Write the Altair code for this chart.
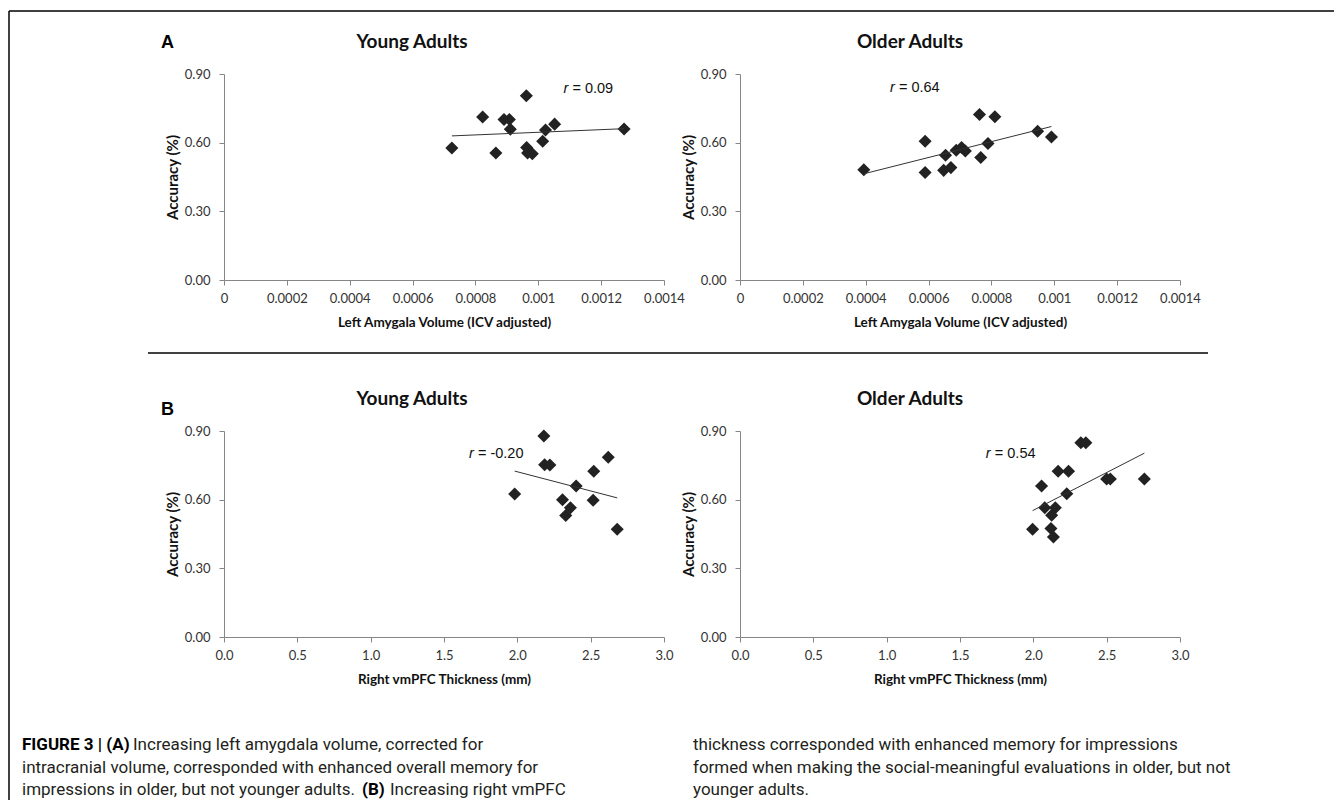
import altair as alt
import pandas as pd

# ---------------- data ----------------
a_young_x = [0.000725, 0.000823, 0.000865, 0.000891, 0.000908, 0.000911, 0.000962,
             0.000963, 0.000966, 0.000981, 0.001014, 0.001023, 0.001052, 0.001273]
a_young_y = [0.577, 0.712, 0.555, 0.701, 0.701, 0.659, 0.805,
             0.579, 0.555, 0.552, 0.606, 0.655, 0.681, 0.660]

a_old_x = [0.000394, 0.000589, 0.000589, 0.000648, 0.000654, 0.000671, 0.000688, 0.000705,
           0.000717, 0.000762, 0.000766, 0.000789, 0.000811, 0.000947, 0.000991]
a_old_y = [0.482, 0.606, 0.470, 0.479, 0.545, 0.491, 0.567, 0.579,
           0.564, 0.723, 0.535, 0.596, 0.713, 0.650, 0.625]

b_young_x = [1.982, 2.181, 2.186, 2.222, 2.308, 2.362, 2.330, 2.401, 2.521, 2.517, 2.620, 2.681]
b_young_y = [0.625, 0.878, 0.753, 0.751, 0.600, 0.565, 0.531, 0.660, 0.724, 0.597, 0.785, 0.471]

b_old_x = [1.995, 2.056, 2.078, 2.150, 2.125, 2.120, 2.137, 2.169, 2.240, 2.228,
           2.324, 2.358, 2.500, 2.525, 2.757]
b_old_y = [0.471, 0.660, 0.565, 0.565, 0.532, 0.474, 0.437, 0.724, 0.724, 0.626,
           0.849, 0.849, 0.690, 0.690, 0.690]

a_ticks = [0, 0.0002, 0.0004, 0.0006, 0.0008, 0.001, 0.0012, 0.0014]
b_ticks = [0.0, 0.5, 1.0, 1.5, 2.0, 2.5, 3.0]
y_ticks = [0.0, 0.3, 0.6, 0.9]

r_labels = ["0.09", "0.64", "-0.20", "0.54"]
r_pos = [(0.00108, 0.836), (0.000477, 0.837), (1.67, 0.80), (1.676, 0.80)]
titles = ["Young Adults", "Older Adults"]
x_titles = ["Left Amygala Volume (ICV adjusted)", "Right vmPFC Thickness (mm)"]
y_title = "Accuracy (%)"

caption_left = [
    "FIGURE 3 | (A)",
    "Increasing left amygdala volume, corrected for",
    "intracranial volume, corresponded with enhanced overall memory for",
    "impressions in older, but not younger adults.",
    "(B)",
    "Increasing right vmPFC",
]
caption_right = [
    "thickness corresponded with enhanced memory for impressions",
    "formed when making the social-meaningful evaluations in older, but not",
    "younger adults.",
]

PW, PH = 440, 206
DOT = "#222222"
LINE = "#333333"
TXT = "#231f20"
CAP = 17


def panel(xs, ys, xticks, xfmt, xtitle, xmax, rp, rtext, title_text, title_x, extras=()):
    df = pd.DataFrame({"x": xs, "y": ys})
    one = pd.DataFrame({"x": [rp[0]], "y": [rp[1]]})
    xenc = alt.X("x:Q", title=xtitle,
                 scale=alt.Scale(domain=[0, xmax], nice=False, zero=False),
                 axis=alt.Axis(values=xticks, format=xfmt, labelFlush=False,
                               labelOverlap=False))
    yenc = alt.Y("y:Q", title=y_title,
                 scale=alt.Scale(domain=[0, 0.9], nice=False),
                 axis=alt.Axis(values=y_ticks, format=".2f", labelFlush=False))
    pts = alt.Chart(df).mark_point(shape="diamond", filled=True, size=170,
                                   color=DOT, opacity=1, strokeWidth=0).encode(x=xenc, y=yenc)
    fit = alt.Chart(df).transform_regression("x", "y").mark_line(
        color=LINE, strokeWidth=1).encode(x=xenc, y=yenc)
    r_i = alt.Chart(one).mark_text(text="r", font="Liberation Sans", fontSize=14.5,
                                   fontStyle="italic", align="left", baseline="middle",
                                   color="#111").encode(x=xenc, y=yenc)
    r_v = alt.Chart(one).mark_text(text="= " + rtext, font="Liberation Sans", fontSize=14.5,
                                   align="left", baseline="middle", dx=9,
                                   color="#111").encode(x=xenc, y=yenc)
    ttl = alt.Chart(one).mark_text(text=title_text, font="Lato", fontSize=19,
                                   fontWeight="bold", align="center", baseline="middle",
                                   color="#111").encode(x=alt.value(title_x), y=alt.value(-32))
    return alt.layer(pts, fit, r_i, r_v, ttl, *extras).properties(width=PW, height=PH)


one_row = pd.DataFrame({"k": [0]})


def hrule(y, x1, x2, w):
    return alt.Chart(one_row).mark_rule(color="black", strokeWidth=w).encode(
        y=alt.value(y), x=alt.value(x1), x2=alt.value(x2))


def vrule(x, y1, y2, w):
    return alt.Chart(one_row).mark_rule(color="black", strokeWidth=w).encode(
        x=alt.value(x), y=alt.value(y1), y2=alt.value(y2))


def label(text, x, y, size=CAP, weight="normal", font="Roboto", color=TXT):
    return alt.Chart(one_row).mark_text(text=text, fontSize=size, fontWeight=weight,
                                        font=font, align="left", baseline="middle",
                                        color=color).encode(x=alt.value(x), y=alt.value(y))


# decorations, positioned relative to the first panel's plot origin
deco = [
    hrule(-63, -215, 1110, 1.5),           # frame top
    vrule(-215, -63, 726, 1.5),            # frame left
    hrule(279, -76, 984, 1.5),             # divider between A and B
    label("A", -63, -31, 18, "bold", "Liberation Sans", "#000"),
    label("B", -63, 336, 18, "bold", "Liberation Sans", "#000"),
    label(caption_left[0], -202, 671, CAP, "bold", color="#000"),
    label(caption_left[1], -91, 671),
    label(caption_left[2], -202, 694),
    label(caption_left[3], -202, 716),
    label(caption_left[4], 138, 716, CAP, "bold", color="#000"),
    label(caption_left[5], 166, 716),
    label(caption_right[0], 469, 671),
    label(caption_right[1], 469, 694),
    label(caption_right[2], 469, 716),
]

a_left = panel(a_young_x, a_young_y, a_ticks, "~g", x_titles[0], 0.0014,
               r_pos[0], r_labels[0], titles[0], 188, deco)
a_right = panel(a_old_x, a_old_y, a_ticks, "~g", x_titles[0], 0.0014,
                r_pos[1], r_labels[1], titles[1], 170)
b_left = panel(b_young_x, b_young_y, b_ticks, ".1f", x_titles[1], 3.0,
               r_pos[2], r_labels[2], titles[0], 188)
b_right = panel(b_old_x, b_old_y, b_ticks, ".1f", x_titles[1], 3.0,
                r_pos[3], r_labels[3], titles[1], 170)

chart = alt.concat(a_left, a_right, b_left, b_right, columns=2,
                   spacing={"row": 151, "column": 76}, bounds="flush").configure(
    padding={"left": 0, "top": 2, "right": 0, "bottom": 0},
    background="white",
).configure_view(stroke=None).configure_axis(
    grid=False, domainColor="#868686", tickColor="#868686", domainWidth=1,
    tickWidth=1, tickSize=5, labelFont="Lato", labelFontSize=13, labelColor="#333333",
    titleFont="Lato", titleFontSize=13.5, titleFontWeight="bold", titleColor="#111111",
).configure_axisX(labelPadding=7, titlePadding=10).configure_axisY(
    labelPadding=9, titlePadding=4, titleFontSize=15)

chart.save("out.html", embed_options={"renderer": "svg", "actions": False})
